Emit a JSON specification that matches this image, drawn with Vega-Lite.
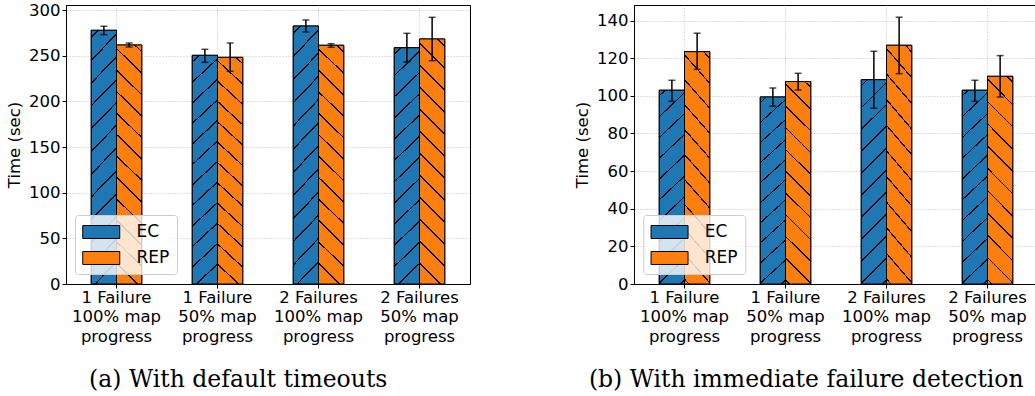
{
  "$schema": "https://vega.github.io/schema/vega-lite/v6.json",
  "padding": {"left": 6, "top": 1, "right": 0, "bottom": 0},
  "bounds": "flush",
  "spacing": 164,
  "background": "white",
  "datasets": {
    "d": [
      {"panel": "a", "cat": "1 Failure|100% map|progress", "series": "EC", "value": 277.8, "lo": 273.0, "hi": 282.2},
      {"panel": "a", "cat": "1 Failure|100% map|progress", "series": "REP", "value": 261.7, "lo": 259.5, "hi": 263.9},
      {"panel": "a", "cat": "1 Failure|50% map|progress", "series": "EC", "value": 250.4, "lo": 242.7, "hi": 257.0},
      {"panel": "a", "cat": "1 Failure|50% map|progress", "series": "REP", "value": 248.2, "lo": 232.9, "hi": 263.9},
      {"panel": "a", "cat": "2 Failures|100% map|progress", "series": "EC", "value": 282.5, "lo": 275.9, "hi": 289.1},
      {"panel": "a", "cat": "2 Failures|100% map|progress", "series": "REP", "value": 261.4, "lo": 259.2, "hi": 263.1},
      {"panel": "a", "cat": "2 Failures|50% map|progress", "series": "EC", "value": 258.7, "lo": 243.1, "hi": 274.5},
      {"panel": "a", "cat": "2 Failures|50% map|progress", "series": "REP", "value": 268.3, "lo": 244.5, "hi": 292.0},
      {"panel": "b", "cat": "1 Failure|100% map|progress", "series": "EC", "value": 103.0, "lo": 97.1, "hi": 108.3},
      {"panel": "b", "cat": "1 Failure|100% map|progress", "series": "REP", "value": 123.5, "lo": 114.1, "hi": 133.3},
      {"panel": "b", "cat": "1 Failure|50% map|progress", "series": "EC", "value": 99.4, "lo": 94.5, "hi": 104.2},
      {"panel": "b", "cat": "1 Failure|50% map|progress", "series": "REP", "value": 107.6, "lo": 103.1, "hi": 112.0},
      {"panel": "b", "cat": "2 Failures|100% map|progress", "series": "EC", "value": 108.6, "lo": 93.4, "hi": 123.7},
      {"panel": "b", "cat": "2 Failures|100% map|progress", "series": "REP", "value": 126.9, "lo": 111.8, "hi": 141.8},
      {"panel": "b", "cat": "2 Failures|50% map|progress", "series": "EC", "value": 103.0, "lo": 97.1, "hi": 108.3},
      {"panel": "b", "cat": "2 Failures|50% map|progress", "series": "REP", "value": 110.4, "lo": 99.4, "hi": 121.4}
    ]
  },
  "hconcat": [
    {
      "width": 404,
      "height": 279,
      "title": {"text": "(a) With default timeouts", "orient": "bottom", "frame": "bounds", "anchor": "middle", "font": "DejaVu Serif", "fontSize": 23.5, "fontWeight": "normal", "color": "#000", "offset": 23},
      "data": {"name": "d"},
      "transform": [{"filter": "datum.panel === 'a'"}],
      "encoding": {
        "x": {"field": "cat", "type": "nominal", "sort": null, "scale": {"paddingInner": 0.5, "paddingOuter": 0.25}, "axis": {"title": null, "labelAngle": 0, "labelExpr": "split(datum.label, '|')", "labelLineHeight": 19.5, "labelPadding": 1, "bandPosition": 0.5, "grid": true}},
        "xOffset": {"field": "series", "type": "nominal", "scale": {"paddingInner": 0, "paddingOuter": 0}}
      },
      "layer": [
        {"mark": {"type": "bar", "stroke": "#000", "strokeWidth": 1},
         "encoding": {"y": {"field": "value", "type": "quantitative", "title": "Time (sec)", "scale": {"domain": [0, 305.5], "nice": false}},
                      "color": {"field": "series", "type": "nominal", "scale": {"domain": ["EC", "REP"], "range": ["#1f77b4", "#ff7f0e"]}, "legend": {"title": null, "orient": "none", "legendX": 9, "legendY": 210}}}},
        {"mark": {"type": "bar", "stroke": "#000", "strokeWidth": 1},
         "encoding": {"y": {"field": "value", "type": "quantitative", "title": "Time (sec)"},
                      "fill": {"condition": {"test": "datum.series === 'EC'", "value": {"gradient": "linear", "x1": 0, "y1": 0, "x2": 0.1248, "y2": 1.2116, "stops": [
                        {"offset": 0, "color": "#1f77b4"},
                        {"offset": 0.02, "color": "#1f77b4"}, {"offset": 0.02, "color": "#000"}, {"offset": 0.026, "color": "#000"}, {"offset": 0.026, "color": "#1f77b4"},
                        {"offset": 0.0933, "color": "#1f77b4"}, {"offset": 0.0933, "color": "#000"}, {"offset": 0.0993, "color": "#000"}, {"offset": 0.0993, "color": "#1f77b4"},
                        {"offset": 0.1667, "color": "#1f77b4"}, {"offset": 0.1667, "color": "#000"}, {"offset": 0.1727, "color": "#000"}, {"offset": 0.1727, "color": "#1f77b4"},
                        {"offset": 0.24, "color": "#1f77b4"}, {"offset": 0.24, "color": "#000"}, {"offset": 0.246, "color": "#000"}, {"offset": 0.246, "color": "#1f77b4"},
                        {"offset": 0.3133, "color": "#1f77b4"}, {"offset": 0.3133, "color": "#000"}, {"offset": 0.3193, "color": "#000"}, {"offset": 0.3193, "color": "#1f77b4"},
                        {"offset": 0.3867, "color": "#1f77b4"}, {"offset": 0.3867, "color": "#000"}, {"offset": 0.3927, "color": "#000"}, {"offset": 0.3927, "color": "#1f77b4"},
                        {"offset": 0.46, "color": "#1f77b4"}, {"offset": 0.46, "color": "#000"}, {"offset": 0.466, "color": "#000"}, {"offset": 0.466, "color": "#1f77b4"},
                        {"offset": 0.5333, "color": "#1f77b4"}, {"offset": 0.5333, "color": "#000"}, {"offset": 0.5393, "color": "#000"}, {"offset": 0.5393, "color": "#1f77b4"},
                        {"offset": 0.6067, "color": "#1f77b4"}, {"offset": 0.6067, "color": "#000"}, {"offset": 0.6127, "color": "#000"}, {"offset": 0.6127, "color": "#1f77b4"},
                        {"offset": 0.68, "color": "#1f77b4"}, {"offset": 0.68, "color": "#000"}, {"offset": 0.686, "color": "#000"}, {"offset": 0.686, "color": "#1f77b4"},
                        {"offset": 0.7533, "color": "#1f77b4"}, {"offset": 0.7533, "color": "#000"}, {"offset": 0.7593, "color": "#000"}, {"offset": 0.7593, "color": "#1f77b4"},
                        {"offset": 0.8267, "color": "#1f77b4"}, {"offset": 0.8267, "color": "#000"}, {"offset": 0.8327, "color": "#000"}, {"offset": 0.8327, "color": "#1f77b4"},
                        {"offset": 0.9, "color": "#1f77b4"}, {"offset": 0.9, "color": "#000"}, {"offset": 0.906, "color": "#000"}, {"offset": 0.906, "color": "#1f77b4"},
                        {"offset": 0.9733, "color": "#1f77b4"}, {"offset": 0.9733, "color": "#000"}, {"offset": 0.9793, "color": "#000"}, {"offset": 0.9793, "color": "#1f77b4"},
                        {"offset": 1, "color": "#1f77b4"}]}},
                        "value": {"gradient": "linear", "x1": 1, "y1": 0, "x2": 0.8752, "y2": 1.2116, "stops": [
                        {"offset": 0, "color": "#ff7f0e"},
                        {"offset": 0.02, "color": "#ff7f0e"}, {"offset": 0.02, "color": "#000"}, {"offset": 0.026, "color": "#000"}, {"offset": 0.026, "color": "#ff7f0e"},
                        {"offset": 0.0933, "color": "#ff7f0e"}, {"offset": 0.0933, "color": "#000"}, {"offset": 0.0993, "color": "#000"}, {"offset": 0.0993, "color": "#ff7f0e"},
                        {"offset": 0.1667, "color": "#ff7f0e"}, {"offset": 0.1667, "color": "#000"}, {"offset": 0.1727, "color": "#000"}, {"offset": 0.1727, "color": "#ff7f0e"},
                        {"offset": 0.24, "color": "#ff7f0e"}, {"offset": 0.24, "color": "#000"}, {"offset": 0.246, "color": "#000"}, {"offset": 0.246, "color": "#ff7f0e"},
                        {"offset": 0.3133, "color": "#ff7f0e"}, {"offset": 0.3133, "color": "#000"}, {"offset": 0.3193, "color": "#000"}, {"offset": 0.3193, "color": "#ff7f0e"},
                        {"offset": 0.3867, "color": "#ff7f0e"}, {"offset": 0.3867, "color": "#000"}, {"offset": 0.3927, "color": "#000"}, {"offset": 0.3927, "color": "#ff7f0e"},
                        {"offset": 0.46, "color": "#ff7f0e"}, {"offset": 0.46, "color": "#000"}, {"offset": 0.466, "color": "#000"}, {"offset": 0.466, "color": "#ff7f0e"},
                        {"offset": 0.5333, "color": "#ff7f0e"}, {"offset": 0.5333, "color": "#000"}, {"offset": 0.5393, "color": "#000"}, {"offset": 0.5393, "color": "#ff7f0e"},
                        {"offset": 0.6067, "color": "#ff7f0e"}, {"offset": 0.6067, "color": "#000"}, {"offset": 0.6127, "color": "#000"}, {"offset": 0.6127, "color": "#ff7f0e"},
                        {"offset": 0.68, "color": "#ff7f0e"}, {"offset": 0.68, "color": "#000"}, {"offset": 0.686, "color": "#000"}, {"offset": 0.686, "color": "#ff7f0e"},
                        {"offset": 0.7533, "color": "#ff7f0e"}, {"offset": 0.7533, "color": "#000"}, {"offset": 0.7593, "color": "#000"}, {"offset": 0.7593, "color": "#ff7f0e"},
                        {"offset": 0.8267, "color": "#ff7f0e"}, {"offset": 0.8267, "color": "#000"}, {"offset": 0.8327, "color": "#000"}, {"offset": 0.8327, "color": "#ff7f0e"},
                        {"offset": 0.9, "color": "#ff7f0e"}, {"offset": 0.9, "color": "#000"}, {"offset": 0.906, "color": "#000"}, {"offset": 0.906, "color": "#ff7f0e"},
                        {"offset": 0.9733, "color": "#ff7f0e"}, {"offset": 0.9733, "color": "#000"}, {"offset": 0.9793, "color": "#000"}, {"offset": 0.9793, "color": "#ff7f0e"},
                        {"offset": 1, "color": "#ff7f0e"}]}}}},
        {"mark": {"type": "rule", "color": "#000", "strokeWidth": 1.5},
         "encoding": {"y": {"field": "lo", "type": "quantitative", "title": "Time (sec)"}, "y2": {"field": "hi"}}},
        {"mark": {"type": "tick", "color": "#000", "size": 7, "thickness": 1.5, "orient": "horizontal"},
         "encoding": {"y": {"field": "lo", "type": "quantitative", "title": "Time (sec)"}}},
        {"mark": {"type": "tick", "color": "#000", "size": 7, "thickness": 1.5, "orient": "horizontal"},
         "encoding": {"y": {"field": "hi", "type": "quantitative", "title": "Time (sec)"}}}
      ]
    },
    {
      "width": 401,
      "height": 279,
      "title": {"text": "(b) With immediate failure detection", "orient": "bottom", "frame": "bounds", "anchor": "middle", "font": "DejaVu Serif", "fontSize": 23.5, "fontWeight": "normal", "color": "#000", "offset": 23},
      "data": {"name": "d"},
      "transform": [{"filter": "datum.panel === 'b'"}],
      "encoding": {
        "x": {"field": "cat", "type": "nominal", "sort": null, "scale": {"paddingInner": 0.5, "paddingOuter": 0.25, "range": [0, 404]}, "axis": {"title": null, "labelAngle": 0, "labelExpr": "split(datum.label, '|')", "labelLineHeight": 19.5, "labelPadding": 1, "bandPosition": 0.5, "grid": true}},
        "xOffset": {"field": "series", "type": "nominal", "scale": {"paddingInner": 0, "paddingOuter": 0}}
      },
      "layer": [
        {"mark": {"type": "bar", "stroke": "#000", "strokeWidth": 1},
         "encoding": {"y": {"field": "value", "type": "quantitative", "title": "Time (sec)", "scale": {"domain": [0, 148.3], "nice": false}},
                      "color": {"field": "series", "type": "nominal", "scale": {"domain": ["EC", "REP"], "range": ["#1f77b4", "#ff7f0e"]}, "legend": {"title": null, "orient": "none", "legendX": 9.3, "legendY": 210}}}},
        {"mark": {"type": "bar", "stroke": "#000", "strokeWidth": 1},
         "encoding": {"y": {"field": "value", "type": "quantitative", "title": "Time (sec)"},
                      "fill": {"condition": {"test": "datum.series === 'EC'", "value": {"gradient": "linear", "x1": 0, "y1": 0, "x2": 0.1539, "y2": 1.2493, "stops": [
                        {"offset": 0, "color": "#1f77b4"},
                        {"offset": 0.02, "color": "#1f77b4"}, {"offset": 0.02, "color": "#000"}, {"offset": 0.026, "color": "#000"}, {"offset": 0.026, "color": "#1f77b4"},
                        {"offset": 0.1046, "color": "#1f77b4"}, {"offset": 0.1046, "color": "#000"}, {"offset": 0.1106, "color": "#000"}, {"offset": 0.1106, "color": "#1f77b4"},
                        {"offset": 0.1892, "color": "#1f77b4"}, {"offset": 0.1892, "color": "#000"}, {"offset": 0.1952, "color": "#000"}, {"offset": 0.1952, "color": "#1f77b4"},
                        {"offset": 0.2739, "color": "#1f77b4"}, {"offset": 0.2739, "color": "#000"}, {"offset": 0.2799, "color": "#000"}, {"offset": 0.2799, "color": "#1f77b4"},
                        {"offset": 0.3585, "color": "#1f77b4"}, {"offset": 0.3585, "color": "#000"}, {"offset": 0.3645, "color": "#000"}, {"offset": 0.3645, "color": "#1f77b4"},
                        {"offset": 0.4431, "color": "#1f77b4"}, {"offset": 0.4431, "color": "#000"}, {"offset": 0.4491, "color": "#000"}, {"offset": 0.4491, "color": "#1f77b4"},
                        {"offset": 0.5277, "color": "#1f77b4"}, {"offset": 0.5277, "color": "#000"}, {"offset": 0.5337, "color": "#000"}, {"offset": 0.5337, "color": "#1f77b4"},
                        {"offset": 0.6123, "color": "#1f77b4"}, {"offset": 0.6123, "color": "#000"}, {"offset": 0.6183, "color": "#000"}, {"offset": 0.6183, "color": "#1f77b4"},
                        {"offset": 0.697, "color": "#1f77b4"}, {"offset": 0.697, "color": "#000"}, {"offset": 0.703, "color": "#000"}, {"offset": 0.703, "color": "#1f77b4"},
                        {"offset": 0.7816, "color": "#1f77b4"}, {"offset": 0.7816, "color": "#000"}, {"offset": 0.7876, "color": "#000"}, {"offset": 0.7876, "color": "#1f77b4"},
                        {"offset": 0.8662, "color": "#1f77b4"}, {"offset": 0.8662, "color": "#000"}, {"offset": 0.8722, "color": "#000"}, {"offset": 0.8722, "color": "#1f77b4"},
                        {"offset": 0.9508, "color": "#1f77b4"}, {"offset": 0.9508, "color": "#000"}, {"offset": 0.9568, "color": "#000"}, {"offset": 0.9568, "color": "#1f77b4"},
                        {"offset": 1, "color": "#1f77b4"}]}},
                        "value": {"gradient": "linear", "x1": 1, "y1": 0, "x2": 0.8461, "y2": 1.2493, "stops": [
                        {"offset": 0, "color": "#ff7f0e"},
                        {"offset": 0.02, "color": "#ff7f0e"}, {"offset": 0.02, "color": "#000"}, {"offset": 0.026, "color": "#000"}, {"offset": 0.026, "color": "#ff7f0e"},
                        {"offset": 0.1046, "color": "#ff7f0e"}, {"offset": 0.1046, "color": "#000"}, {"offset": 0.1106, "color": "#000"}, {"offset": 0.1106, "color": "#ff7f0e"},
                        {"offset": 0.1892, "color": "#ff7f0e"}, {"offset": 0.1892, "color": "#000"}, {"offset": 0.1952, "color": "#000"}, {"offset": 0.1952, "color": "#ff7f0e"},
                        {"offset": 0.2739, "color": "#ff7f0e"}, {"offset": 0.2739, "color": "#000"}, {"offset": 0.2799, "color": "#000"}, {"offset": 0.2799, "color": "#ff7f0e"},
                        {"offset": 0.3585, "color": "#ff7f0e"}, {"offset": 0.3585, "color": "#000"}, {"offset": 0.3645, "color": "#000"}, {"offset": 0.3645, "color": "#ff7f0e"},
                        {"offset": 0.4431, "color": "#ff7f0e"}, {"offset": 0.4431, "color": "#000"}, {"offset": 0.4491, "color": "#000"}, {"offset": 0.4491, "color": "#ff7f0e"},
                        {"offset": 0.5277, "color": "#ff7f0e"}, {"offset": 0.5277, "color": "#000"}, {"offset": 0.5337, "color": "#000"}, {"offset": 0.5337, "color": "#ff7f0e"},
                        {"offset": 0.6123, "color": "#ff7f0e"}, {"offset": 0.6123, "color": "#000"}, {"offset": 0.6183, "color": "#000"}, {"offset": 0.6183, "color": "#ff7f0e"},
                        {"offset": 0.697, "color": "#ff7f0e"}, {"offset": 0.697, "color": "#000"}, {"offset": 0.703, "color": "#000"}, {"offset": 0.703, "color": "#ff7f0e"},
                        {"offset": 0.7816, "color": "#ff7f0e"}, {"offset": 0.7816, "color": "#000"}, {"offset": 0.7876, "color": "#000"}, {"offset": 0.7876, "color": "#ff7f0e"},
                        {"offset": 0.8662, "color": "#ff7f0e"}, {"offset": 0.8662, "color": "#000"}, {"offset": 0.8722, "color": "#000"}, {"offset": 0.8722, "color": "#ff7f0e"},
                        {"offset": 0.9508, "color": "#ff7f0e"}, {"offset": 0.9508, "color": "#000"}, {"offset": 0.9568, "color": "#000"}, {"offset": 0.9568, "color": "#ff7f0e"},
                        {"offset": 1, "color": "#ff7f0e"}]}}}},
        {"mark": {"type": "rule", "color": "#000", "strokeWidth": 1.5},
         "encoding": {"y": {"field": "lo", "type": "quantitative", "title": "Time (sec)"}, "y2": {"field": "hi"}}},
        {"mark": {"type": "tick", "color": "#000", "size": 7, "thickness": 1.5, "orient": "horizontal"},
         "encoding": {"y": {"field": "lo", "type": "quantitative", "title": "Time (sec)"}}},
        {"mark": {"type": "tick", "color": "#000", "size": 7, "thickness": 1.5, "orient": "horizontal"},
         "encoding": {"y": {"field": "hi", "type": "quantitative", "title": "Time (sec)"}}}
      ]
    }
  ],
  "resolve": {"scale": {"color": "independent"}, "legend": {"color": "independent"}},
  "config": {
    "font": "DejaVu Sans",
    "view": {"stroke": "#000", "strokeWidth": 1},
    "axis": {"labelFont": "DejaVu Sans", "labelFontSize": 16.5, "labelColor": "#000", "titleFont": "DejaVu Sans", "titleFontSize": 16.5, "titleFontWeight": "normal", "titleColor": "#000", "tickColor": "#000", "tickSize": 4, "tickWidth": 1, "domainColor": "#000", "gridColor": "#b0b0b0", "gridDash": [1, 2], "gridWidth": 0.8, "zindex": 1, "labelFlush": false},
    "axisY": {"labelPadding": 2, "titlePadding": 6, "grid": true},
    "legend": {"fillColor": "rgba(255,255,255,0.8)", "strokeColor": "#cccccc", "cornerRadius": 3, "padding": 7, "symbolType": "M-1,-0.7L3,-0.7L3,0.7L-1,0.7Z", "symbolSize": 342, "symbolStrokeColor": "#000", "symbolStrokeWidth": 1, "symbolOpacity": 1, "labelFont": "DejaVu Sans", "labelFontSize": 17, "labelColor": "#000", "labelOffset": 34.5, "rowPadding": 7, "zindex": 2}
  }
}
